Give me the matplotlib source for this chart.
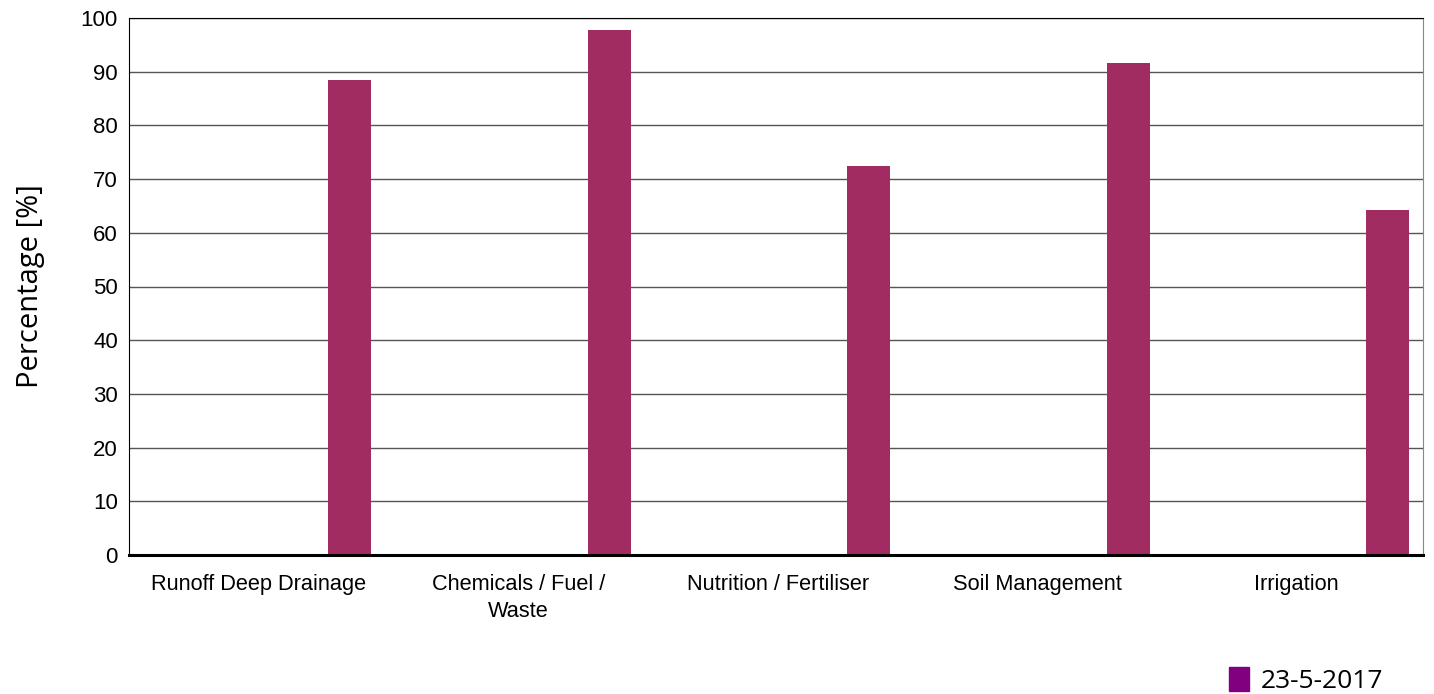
import matplotlib.pyplot as plt
import numpy as np
from matplotlib.patches import Patch

categories = ["Runoff Deep Drainage", "Chemicals / Fuel /\nWaste", "Nutrition / Fertiliser",
              "Soil Management", "Irrigation"]
values = [88.5, 97.8, 72.4, 91.6, 64.2]
series_label = "23-5-2017"
y_ticks = [0, 10, 20, 30, 40, 50, 60, 70, 80, 90, 100]

fig = plt.figure(figsize=(14.34, 6.94), dpi=100)
ax = fig.add_axes([129 / 1434, 1 - 555 / 694, (1423 - 129) / 1434, (555 - 18) / 694])

x = np.arange(len(categories))
ax.bar(x + 0.350, values, width=0.166, color="#A12C61", zorder=3)

ax.set_xlim(-0.5, 4.4865)
ax.set_ylim(0, 100)
ax.set_yticks(y_ticks)
ax.set_xticks(x)
ax.set_xticklabels(categories, fontsize=15.7, family="Liberation Sans", linespacing=1.32)
for lab in ax.get_yticklabels():
    lab.set_family("Liberation Sans")
    lab.set_fontsize(16)
ax.tick_params(axis="y", length=0, pad=8)
ax.tick_params(axis="x", length=0, pad=14)
ax.grid(axis="y", color="#555555", linewidth=1, zorder=0)

ax.spines["left"].set_color("black")
ax.spines["top"].set_color("black")
ax.spines["right"].set_color("#888888")
ax.spines["bottom"].set_color("black")
ax.spines["bottom"].set_linewidth(2.2)
ax.spines["bottom"].set_zorder(4)

ax.set_ylabel("Percentage [%]", family="Open Sans", fontsize=21, labelpad=26)

handle = Patch(color="#800080", label=series_label)
fig.legend(handles=[handle], loc="lower right", bbox_to_anchor=(0.981, -0.034),
           frameon=False, prop={"family": "Open Sans", "size": 19},
           handlelength=0.75, handleheight=1.0, handletextpad=0.45)

fig.savefig("out.png", dpi=100)
